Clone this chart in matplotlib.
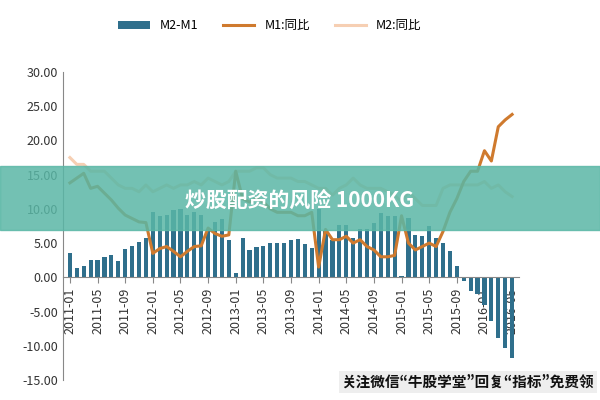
import numpy as np
import pandas as pd
import matplotlib.pyplot as plt
from matplotlib import font_manager

names = {f.name for f in font_manager.fontManager.ttflist}
cjk = [n for n in ['Noto Sans CJK SC', 'Noto Sans CJK JP', 'Noto Sans CJK TC'] if n in names]
plt.rcParams['font.family'] = 'sans-serif'
plt.rcParams['font.sans-serif'] = cjk + ['DejaVu Sans']

months = pd.date_range("2011-01", "2016-05", freq="MS").strftime("%Y-%m").tolist()

m2_m1 = [3.6, 1.3, 1.7, 2.5, 2.5, 2.9, 3.3, 2.4, 4.2, 4.6, 5.1, 5.7,
         9.5, 9.0, 9.1, 9.9, 10.0, 9.1, 9.5, 9.1, 6.9, 8.1, 8.5, 5.5,
         0.7, 5.8, 4.0, 4.4, 4.6, 5.0, 5.0, 5.0, 5.5, 5.6, 4.8, 4.3,
         10.0, 6.7, 5.5, 7.7, 7.7, 5.8, 7.0, 7.0, 7.9, 9.4, 8.9, 8.9,
         0.2, 8.7, 6.2, 6.0, 7.5, 5.8, 5.0, 3.9, 1.6, -0.5, -2.0, -2.5,
         -4.0, -6.4, -8.9, -10.3, -11.8]
m1 = [13.8, 14.5, 15.2, 13.0, 13.3, 12.3, 11.3, 10.1, 9.1, 8.6, 8.1, 8.0,
      3.5, 4.2, 4.5, 3.8, 3.0, 3.8, 4.5, 4.6, 7.2, 6.4, 6.0, 6.2,
      15.5, 11.5, 11.0, 11.5, 11.0, 10.0, 9.5, 9.5, 9.5, 9.0, 9.0, 9.5,
      1.5, 7.0, 5.5, 5.5, 6.0, 5.0, 5.5, 4.5, 4.0, 3.0, 3.0, 3.2,
      9.0, 5.0, 4.0, 4.5, 5.0, 4.5, 6.7, 9.5, 11.5, 14.0, 15.5, 15.5,
      18.5, 17.0, 22.0, 23.0, 23.8]
m2 = [17.5, 16.5, 16.5, 15.5, 15.5, 15.5, 14.5, 13.5, 13.0, 13.0, 12.5, 13.5,
      12.5, 13.0, 13.5, 13.0, 13.5, 13.5, 14.0, 13.5, 14.5, 14.0, 13.5, 14.0,
      15.5, 15.5, 15.5, 16.0, 16.0, 15.0, 14.5, 14.5, 14.5, 14.0, 14.0, 13.5,
      13.0, 13.0, 12.0, 13.0, 13.5, 14.5, 13.5, 13.0, 13.0, 13.0, 12.5, 12.0,
      11.0, 12.5, 11.5, 10.5, 10.5, 10.5, 13.0, 13.5, 13.5, 13.5, 13.5, 13.5,
      14.0, 13.0, 13.5, 12.5, 11.8]

x = np.arange(len(months))

fig = plt.figure(figsize=(6, 4), dpi=100)
ax = fig.add_axes([0.105, 0.05, 0.76, 0.77])
ax.spines['bottom'].set_position(('data', 0))

b = ax.bar(x, m2_m1, width=0.6, color='#2f6f8c', label='M2-M1', zorder=2)
l1, = ax.plot(x, m1, color='#cf7a2e', lw=2.2, label='M1:同比', zorder=3)
l2, = ax.plot(x, m2, color='#f6cfb3', lw=2.2, label='M2:同比', zorder=2.5)

ax.set_ylim(-15, 30)
ax.set_yticks(np.arange(-15, 31, 5))
ax.set_yticklabels(["{:.2f}".format(v) for v in np.arange(-15, 31, 5)], fontsize=9, color='#333333')
ax.set_xlim(-1, len(months))
ax.set_xticks(x[::4])
ax.set_xticklabels(months[::4], fontsize=9, color='#333333')
for t in ax.get_xticklabels():
    t.set_rotation(90)
ax.spines['bottom'].set_color('#888888')
ax.spines['left'].set_color('#888888')
ax.spines['top'].set_visible(False)
ax.spines['right'].set_visible(False)
ax.tick_params(axis='x', length=4, color='#888888')
ax.tick_params(axis='y', length=0)

fig.legend(handles=[b, l1, l2], loc='upper center', bbox_to_anchor=(0.45, 0.98), ncol=3,
           frameon=False, fontsize=9, handlelength=2.5, columnspacing=2)

# watermark band
fig.patches.append(plt.Rectangle((0, 0.425), 1, 0.16, transform=fig.transFigure,
                                 color='#5ab7a6', alpha=0.85, zorder=5))
fig.text(0.5, 0.5, "炒股配资的风险 1000KG", ha='center', va='center', color='white',
         fontsize=15, fontweight='bold', zorder=6)
fig.text(0.99, 0.045, "关注微信“牛股学堂”回复“指标”免费领", ha='right', va='center',
         color='#111111', fontsize=10.5, fontweight='bold', zorder=6,
         bbox=dict(facecolor='#eeeeee', edgecolor='none', pad=2))

fig.savefig("out.png", dpi=100)
